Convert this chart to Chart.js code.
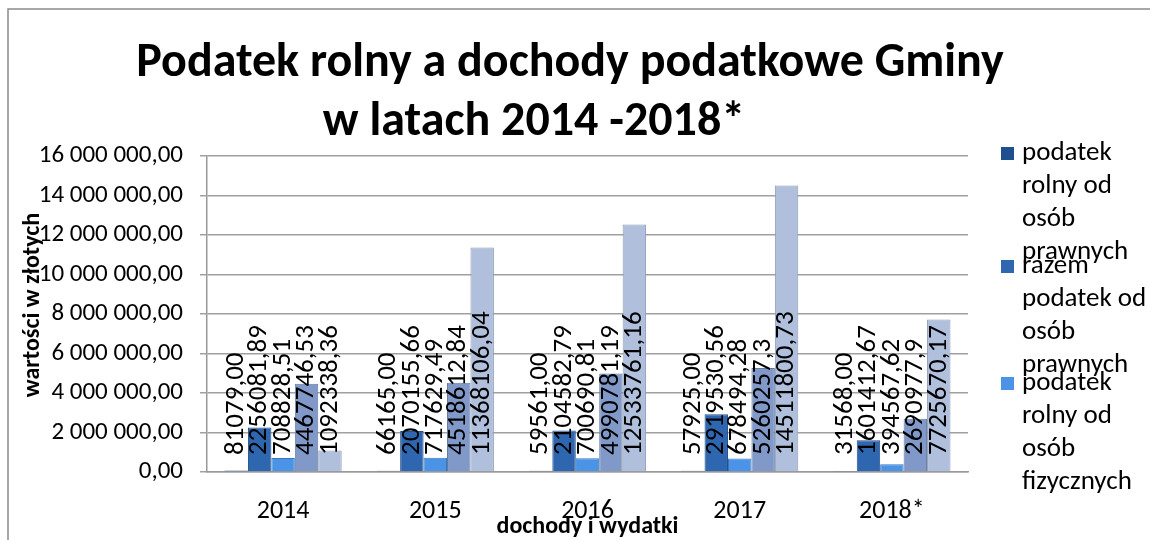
<!DOCTYPE html>
<html>
<head>
<meta charset="utf-8">
<script src="https://cdn.jsdelivr.net/npm/chart.js@4.4.1/dist/chart.umd.min.js"></script>
<style>
  html, body { margin: 0; padding: 0; background: #fff; }
  #wrap { width: 1150px; height: 540px; }
</style>
</head>
<body>
<div id="wrap"><canvas id="taxChart" width="1150" height="540"></canvas></div>
<script>
// lata
const years = ['2014', '2015', '2016', '2017', '2018*'];

// wartości w złotych
const rolnyPrawne = [81079.00, 66165.00, 59561.00, 57925.00, 31568.00];
const razemPrawne = [2256081.89, 2070155.66, 2104582.79, 2919530.56, 1601412.67];
const rolnyFizyczne = [708828.51, 717629.49, 700690.81, 678494.28, 394567.62];
const razemFizyczne = [4467746.53, 4518612.84, 4990781.19, 5260257.3, 2690977.9];
const dochodyPodatkowe = [1092338.36, 11368106.04, 12533761.16, 14511800.73, 7725670.17];

const seriesNames = [
  ['podatek', 'rolny od', 'osób', 'prawnych'],
  ['razem', 'podatek od', 'osób', 'prawnych'],
  ['podatek', 'rolny od', 'osób', 'fizycznych'],
  ['razem podatek od osób fizycznych'],
  ['dochody podatkowe']
];
const yTicksMax = 16000000;
const yTicksStep = 2000000;

const colors = ['#1f4f8f', '#2e66b0', '#4a93e6', '#8099c8', '#b0bfdc'];
const borders = ['#173c6e', '#234f8a', '#3577c2', '#62799f', '#8d9bb5'];
const FONT = 'Carlito, Calibri, Lato, sans-serif';

function plNumber(v) {
  const parts = v.toFixed(2).split('.');
  return parts[0].replace(/\B(?=(\d{3})+(?!\d))/g, ' ') + ',' + parts[1];
}

// pierwsza seria ma format z dwoma miejscami, reszta ogólny
function barLabel(v, i) {
  if (i === 0) return v.toFixed(2).replace('.', ',');
  return String(v).replace('.', ',');
}

const allData = [rolnyPrawne, razemPrawne, rolnyFizyczne, razemFizyczne, dochodyPodatkowe];

const extrasPlugin = {
  id: 'extras',
  afterDatasetsDraw(chart) {
    const ctx = chart.ctx;
    const base = chart.scales.y.getPixelForValue(0);
    ctx.save();
    ctx.fillStyle = '#000';
    ctx.font = '27px ' + FONT;
    chart.data.datasets.forEach((ds, i) => {
      const meta = chart.getDatasetMeta(i);
      meta.data.forEach((bar, j) => {
        ctx.save();
        ctx.translate(bar.x, base - 17);
        ctx.rotate(-Math.PI / 2);
        ctx.textAlign = 'left';
        ctx.textBaseline = 'middle';
        ctx.fillText(barLabel(ds.data[j], i), 0, 0);
        ctx.restore();
      });
    });
    ctx.restore();
  },
  afterDraw(chart) {
    const ctx = chart.ctx;
    const area = chart.chartArea;
    ctx.save();
    // ramka
    ctx.strokeStyle = '#8a8a8a';
    ctx.lineWidth = 1.5;
    ctx.beginPath();
    ctx.moveTo(8, 540);
    ctx.lineTo(8, 9);
    ctx.lineTo(1150, 9);
    ctx.stroke();

    // tytuł
    ctx.fillStyle = '#000';
    ctx.font = 'bold 48px ' + FONT;
    ctx.textAlign = 'center';
    ctx.textBaseline = 'alphabetic';
    ctx.fillText('Podatek rolny a dochody podatkowe Gminy', 570, 76);
    ctx.fillText('w latach 2014 -2018*', 534, 135);

    // tytuły osi
    ctx.font = 'bold 24px ' + FONT;
    ctx.textBaseline = 'middle';
    ctx.fillText('dochody i wydatki', (area.left + area.right) / 2, 527);
    ctx.save();
    ctx.translate(33, 305);
    ctx.rotate(-Math.PI / 2);
    ctx.fillText('wartości w złotych', 0, 0);
    ctx.restore();

    // legenda
    ctx.font = '27px ' + FONT;
    ctx.textAlign = 'left';
    const starts = [153, 266, 383];
    for (let i = 0; i < 3; i++) {
      const y0 = starts[i];
      ctx.fillStyle = colors[i];
      ctx.fillRect(1001, y0 - 6, 13, 13);
      ctx.fillStyle = '#000';
      seriesNames[i].forEach((line, k) => {
        ctx.fillText(line, 1022, y0 + k * 33);
      });
    }
    ctx.restore();
  }
};

const ctx = document.getElementById('taxChart').getContext('2d');
const chart = new Chart(ctx, {
  type: 'bar',
  data: {
    labels: years,
    datasets: allData.map((d, i) => ({
      label: seriesNames[i].join(' '),
      data: d,
      backgroundColor: colors[i],
      borderColor: borders[i],
      borderWidth: 1
    }))
  },
  options: {
    responsive: false,
    animation: false,
    devicePixelRatio: 1,
    categoryPercentage: 0.77,
    barPercentage: 1,
    layout: { padding: { left: 0, top: 156, right: 182, bottom: 0 } },
    plugins: {
      legend: { display: false },
      title: { display: false },
      tooltip: { enabled: false }
    },
    scales: {
      x: {
        grid: { display: false },
        border: { display: true, color: '#999', width: 1.5 },
        ticks: { color: '#000', font: { family: FONT, size: 26 }, padding: 16 },
        afterFit(scale) { scale.height = 68; }
      },
      y: {
        min: 0,
        max: yTicksMax,
        grid: { color: '#a0a0a0', lineWidth: 1.5, tickLength: 7 },
        border: { display: true, color: '#999', width: 1.5 },
        ticks: {
          stepSize: yTicksStep,
          color: '#000',
          padding: 17,
          font: { family: FONT, size: 25 },
          callback: v => plNumber(v)
        },
        afterFit(scale) { scale.width = 207; }
      }
    }
  },
  plugins: [extrasPlugin]
});
</script>
</body>
</html>
